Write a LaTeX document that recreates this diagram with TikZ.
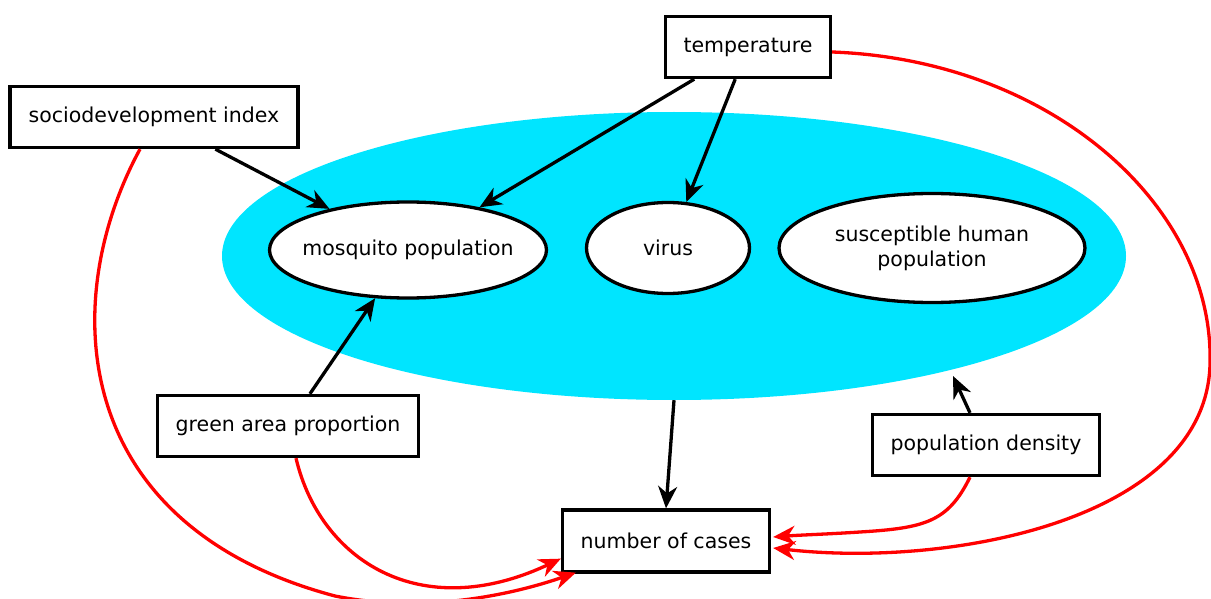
\documentclass[tikz,border=0pt]{standalone}
\usepackage{fontspec}
\setmainfont{DejaVu Sans}
\usetikzlibrary{arrows.meta,shapes.geometric}
\definecolor{cloudcyan}{HTML}{00E5FF}
\definecolor{edgered}{HTML}{FF0000}
\tikzset{
  boxnode/.style={draw=black,line width=3.3pt,fill=white,rectangle,inner sep=0pt,minimum height=61pt,font=\fontsize{20.5}{25}\selectfont},
  ellnode/.style={draw=black,line width=3.3pt,fill=white,ellipse,inner sep=0pt,font=\fontsize{20.5}{25}\selectfont,align=center},
  blk/.style={draw=black,line width=3.3pt,-{Stealth[length=22pt,width=19pt,inset=7pt]}},
  rd/.style={draw=edgered,line width=3.3pt,-{Stealth[length=22pt,width=19pt,inset=7pt]}}
}
\begin{document}
\begin{tikzpicture}[x=1pt,y=-1pt]
\useasboundingbox (0,0) rectangle (1211,599);
\node[ellipse,fill=cloudcyan,minimum width=904pt,minimum height=288pt,inner sep=0pt] (cloud) at (674,256) {};
\node[ellnode,minimum width=277pt,minimum height=96pt] (mosq) at (408,250) {\makebox[0pt]{mosquito population}};
\node[ellnode,minimum width=163pt,minimum height=91pt] (virus) at (668,248) {\makebox[0pt]{virus}};
\node[ellnode,minimum width=306pt,minimum height=109pt] (susc) at (932,248) {\makebox[0pt]{susceptible human}\\\makebox[0pt]{population}};
\node[boxnode,minimum width=165pt] (temp) at (748,47) {temperature};
\node[boxnode,minimum width=288pt] (sd) at (154,117) {sociodevelopment index};
\node[boxnode,minimum width=261pt] (green) at (288,426) {green area proportion};
\node[boxnode,minimum width=227pt] (pd) at (986,445) {population density};
\node[boxnode,minimum width=207pt,minimum height=62pt] (cases) at (666,541) {number of cases};
\coordinate (pdend) at (953,376);
% black edges
\draw[blk] (temp) -- (mosq);
\draw[blk] (temp) -- (virus);
\draw[blk] (sd) -- (mosq);
\draw[blk] (green) -- (mosq);
\draw[blk] ([xshift=-16pt]pd.north) -- (pdend);
\draw[blk] (cloud.south) -- (cases.north);
% red edges
\draw[rd] ([xshift=-14pt]sd.south) .. controls (58,300) and (68,525) .. (335,596) .. controls (430,615) and (520,592) .. ([xshift=15pt,yshift=1pt]cases.south west);
\draw[rd] ([xshift=8pt]green.south) .. controls (320,560) and (420,625) .. ([yshift=15pt]cases.south west);
\draw[rd] ([yshift=-5pt]temp.east) .. controls (1050,60) and (1215,205) .. (1210,365) .. controls (1205,520) and (950,568) .. ([yshift=-7pt,xshift=2pt]cases.east);
\draw[rd] ([xshift=-16pt]pd.south) .. controls (948,522) and (925,528) .. (860,532) .. controls (830,534) and (800,535) .. ([yshift=4pt,xshift=2pt]cases.east);
\end{tikzpicture}
\end{document}
